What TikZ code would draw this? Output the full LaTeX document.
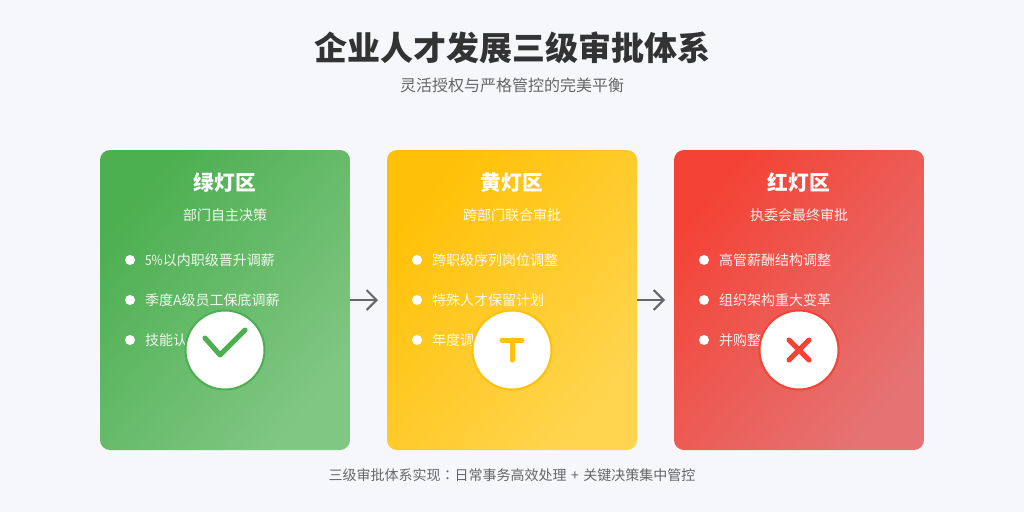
\documentclass[tikz,border=0pt]{standalone}
\usepackage{fontspec}
\setmainfont{Noto Sans CJK SC}
\newfontfamily\tcpart{Noto Sans CJK TC}
\usetikzlibrary{arrows.meta}
\definecolor{bgc}{HTML}{F5F7FA}
\definecolor{gA}{HTML}{4CAF50}\definecolor{gB}{HTML}{81C784}
\definecolor{yA}{HTML}{FFC107}\definecolor{yB}{HTML}{FFD54F}
\definecolor{rA}{HTML}{F44336}\definecolor{rB}{HTML}{E57373}
\definecolor{tA}{HTML}{333333}\definecolor{tB}{HTML}{666666}
\tikzset{
  x=1pt,y=-1pt,
  txt/.style={inner sep=0pt,outer sep=0pt,anchor=base},
  maintitle/.style={txt,text=tA,font=\fontsize{33}{33}\selectfont\bfseries},
  subt/.style={txt,text=tB,font=\fontsize{16}{16}\selectfont},
  foot/.style={txt,text=tB,font=\fontsize{14}{14}\selectfont},
  cardtitle/.style={txt,text=white,font=\fontsize{20.7}{21}\selectfont\bfseries},
  cardsub/.style={txt,text=white,text opacity=.9,font=\fontsize{14}{14}\selectfont},
  item/.style={txt,anchor=base west,text=white,text opacity=.9,font=\fontsize{14}{14}\selectfont},
  dotm/.style={circle,fill=white,inner sep=0pt,outer sep=0pt,minimum size=10pt},
  cardbox/.style={rectangle,inner sep=0pt,outer sep=0pt,minimum width=250pt,minimum height=300pt},
  badge/.style={circle,fill=white,draw=#1,line width=2pt,inner sep=0pt,outer sep=0pt,minimum size=79pt},
  flow/.style={draw=tB,line width=2pt,-{Straight Barb[length=10pt,width=20pt,line width=2pt]}},
  glyph/.style={draw=#1,line width=5pt,line cap=round,line join=round},
}
\newcommand{\cardfill}[3]{%
  \begin{scope}
    \clip[rounded corners=10pt] (#1,150) rectangle ++(250,300);
    \shade[transform canvas={shift={(#1,150)},xscale=2.5,yscale=3},shading=axis,left color=#2,right color=#3,shading angle=45] (0,0) rectangle (100,100);
  \end{scope}}
\begin{document}
\begin{tikzpicture}
\useasboundingbox[fill=bgc] (0,0) rectangle (1024,512);
\node[maintitle] (title) at (512,60) {企业人才发展三级审批体系};
\node[subt] (subtitle) at (512,91) {灵活授权与严格管控的完美平衡};
% cards
\cardfill{100}{gA}{gB}
\cardfill{387}{yA}{yB}
\cardfill{674}{rA}{rB}
\node[cardbox] (green) at (225,300) {};
\node[cardbox] (yellow) at (512,300) {};
\node[cardbox] (red) at (799,300) {};
% green
\node[cardtitle] (gt) at (225,190) {绿灯区};
\node[cardsub] (gs) at (225,220) {部门自主决策};
\node[dotm] (gd1) at (130,260) {}; \node[item] (gi1) at (145,265) {\scalebox{.86}[1]{5\%}以内职级晋升调薪};
\node[dotm] (gd2) at (130,300) {}; \node[item] (gi2) at (145,305) {季度A级员工保底调薪};
\node[dotm] (gd3) at (130,340) {}; \node[item] (gi3) at (145,345) {技能认};
% yellow
\node[cardtitle] (yt) at (512,190) {黄灯区};
\node[cardsub] (ys) at (512,220) {跨部门联合审批};
\node[dotm] (yd1) at (417,260) {}; \node[item] (yi1) at (432,265) {跨职级序列岗位调整};
\node[dotm] (yd2) at (417,300) {}; \node[item] (yi2) at (432,305) {特殊人才保留计划};
\node[dotm] (yd3) at (417,340) {}; \node[item] (yi3) at (432,345) {年度调};
% red
\node[cardtitle] (rt) at (799,190) {红灯区};
\node[cardsub] (rs) at (799,220) {执委会最终审批};
\node[dotm] (rd1) at (704,260) {}; \node[item] (ri1) at (719,265) {高管薪酬结构调整};
\node[dotm] (rd2) at (704,300) {}; \node[item] (ri2) at (719,305) {组织架构重大变革};
\node[dotm] (rd3) at (704,340) {}; \node[item] (ri3) at (719,345) {并购整};
% badges
\node[badge=gA] (gb) at (225,350) {};
\node[badge=yA] (yb) at (512,350) {};
\node[badge=rA] (rb) at (799,350) {};
\draw[glyph=gA] (205,338) -- (220,355) -- (245,330);
\draw[glyph=yA] (502,340) -- (522,340);
\draw[glyph=yA] (512,340) -- (512,360);
\draw[glyph=rA] (789,340) -- (809,360);
\draw[glyph=rA] (809,340) -- (789,360);
% arrows
\coordinate (a1) at (378,300);
\coordinate (a2) at (665,300);
\draw[flow] (green.east) -- (a1);
\draw[flow] (yellow.east) -- (a2);
\node[foot] (footer) at (512,480) {三级审批体系实现{\tcpart ：}日常事务高效处理\hspace{4.4pt}+\hspace{4.4pt}关键决策集中管控};
\end{tikzpicture}
\end{document}
